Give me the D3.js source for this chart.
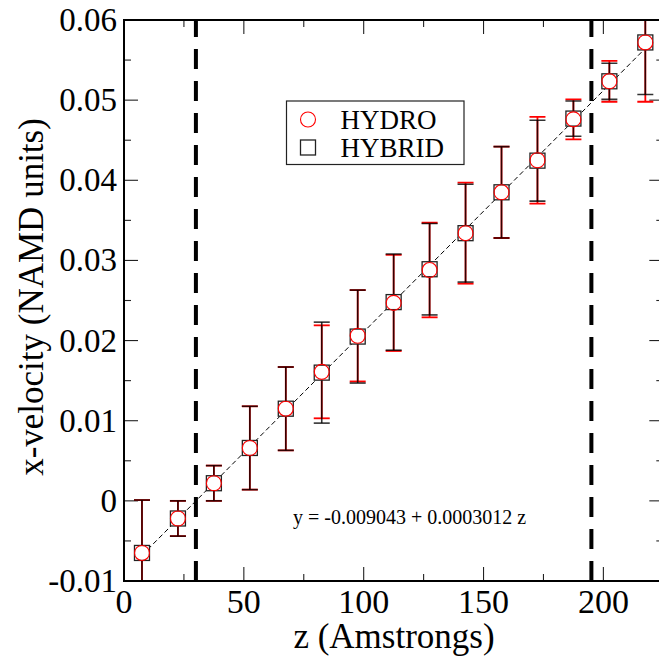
<!DOCTYPE html>
<html>
<head>
<meta charset="utf-8">
<script src="https://cdn.jsdelivr.net/npm/d3@7"></script>
<style>
html,body{margin:0;padding:0;background:#fff;}
svg{display:block;}
text{font-family:"Liberation Serif","DejaVu Serif",serif;fill:#000;}
</style>
</head>
<body>
<svg id="chart" width="659" height="659"></svg>
<script>
// ---- data ----
const zValues = [7.5, 22.5, 37.5, 52.5, 67.5, 82.5, 97.5, 112.5, 127.5, 142.5, 157.5, 172.5, 187.5, 202.5, 217.5];
const hydroVel = [-0.0065, -0.0022, 0.0022, 0.0066, 0.0115, 0.0161, 0.0206, 0.0247, 0.0288, 0.0334, 0.0385, 0.0425, 0.0476, 0.05235, 0.0572];
const hydroErr = [0.0066, 0.0022, 0.0022, 0.0052, 0.0052, 0.0058, 0.0057, 0.0060, 0.0059, 0.0063, 0.0057, 0.0054, 0.0025, 0.00255, 0.0074];
const hybridVel = [-0.0065, -0.0022, 0.0022, 0.0066, 0.0115, 0.0160, 0.0205, 0.0248, 0.0289, 0.0334, 0.0385, 0.04245, 0.0477, 0.05235, 0.0572];
const hybridErr = [0.0066, 0.0022, 0.0022, 0.0052, 0.0052, 0.0063, 0.0058, 0.0060, 0.0057, 0.0061, 0.0057, 0.00505, 0.0022, 0.00225, 0.0065];
const seriesNames = ["HYDRO", "HYBRID"];
const fitIntercept = -0.009043;
const fitSlope = 0.0003012;
const fitLabel = "y = -0.009043 + 0.0003012 z";
const boundaryZ = [30, 195];
const xTicks = [0, 50, 100, 150, 200];
const xMinorTicks = [25, 75, 125, 175, 225];
const yTicks = [-0.01, 0, 0.01, 0.02, 0.03, 0.04, 0.05, 0.06];
const yTickLabels = ["-0.01", "0", "0.01", "0.02", "0.03", "0.04", "0.05", "0.06"];
const yMinorTicks = [-0.005, 0.005, 0.015, 0.025, 0.035, 0.045, 0.055];
const xLabel = "z (Amstrongs)";
const yLabel = "x-velocity (NAMD units)";

// ---- layout ----
const svg = d3.select("#chart");
const x = d3.scaleLinear().domain([0, 225]).range([124, 663.3]);
const y = d3.scaleLinear().domain([-0.01, 0.06]).range([581, 20]);
const X0 = x.range()[0], X1 = x.range()[1], Y0 = y.range()[0], Y1 = y.range()[1];

svg.append("defs").append("clipPath").attr("id", "clip")
  .append("rect").attr("x", X0).attr("y", Y1).attr("width", X1 - X0).attr("height", Y0 - Y1);

// ---- ticks (inward on all sides) ----
const tickG = svg.append("g").attr("stroke", "#222").attr("stroke-width", 1.1);
function vt(v, len) {
  tickG.append("line").attr("x1", x(v)).attr("x2", x(v)).attr("y1", Y0).attr("y2", Y0 - len);
  tickG.append("line").attr("x1", x(v)).attr("x2", x(v)).attr("y1", Y1).attr("y2", Y1 + len);
}
function ht(v, len) {
  tickG.append("line").attr("y1", y(v)).attr("y2", y(v)).attr("x1", X0).attr("x2", X0 + len);
  tickG.append("line").attr("y1", y(v)).attr("y2", y(v)).attr("x1", X1).attr("x2", X1 - len);
}
xTicks.forEach(v => vt(v, 14));
xMinorTicks.forEach(v => vt(v, 7));
yTicks.forEach(v => ht(v, 14));
yMinorTicks.forEach(v => ht(v, 7));

// tick labels
svg.append("g").selectAll("text").data(xTicks).join("text")
  .attr("x", d => x(d)).attr("y", 613).attr("text-anchor", "middle")
  .attr("font-size", 34).text(d => String(d));
svg.append("g").selectAll("text").data(yTicks).join("text")
  .attr("x", 117).attr("y", d => y(d) + 11).attr("text-anchor", "end")
  .attr("font-size", 33).text((d, i) => yTickLabels[i]);

// axis labels
svg.append("text").attr("x", 394).attr("y", 648).attr("text-anchor", "middle")
  .attr("font-size", 35).text(xLabel);
svg.append("text").attr("transform", "translate(43,297) rotate(-90)").attr("text-anchor", "middle")
  .attr("font-size", 35).text(yLabel);

// ---- plot content ----
const plot = svg.append("g").attr("clip-path", "url(#clip)");

// boundary dashed lines
plot.selectAll("line.bound").data(boundaryZ).join("line")
  .attr("class", "bound")
  .attr("x1", d => x(d)).attr("x2", d => x(d)).attr("y1", Y0).attr("y2", Y1)
  .attr("stroke", "#000").attr("stroke-width", 4).attr("stroke-dasharray", "20,12");

// fit line
const zFirst = zValues[0], zLast = zValues[zValues.length - 1];
plot.append("line")
  .attr("x1", x(zFirst)).attr("y1", y(fitIntercept + fitSlope * zFirst))
  .attr("x2", x(zLast)).attr("y2", y(fitIntercept + fitSlope * zLast))
  .attr("stroke", "#000").attr("stroke-width", 1).attr("stroke-dasharray", "5,3");

// error bars
function errorBars(vals, errs, color, width, opacity) {
  const g = plot.append("g").attr("stroke", color).attr("stroke-width", width).attr("stroke-opacity", opacity);
  zValues.forEach((z, i) => {
    const cx = x(z), lo = y(vals[i] - errs[i]), hi = y(vals[i] + errs[i]);
    g.append("line").attr("x1", cx).attr("x2", cx).attr("y1", lo).attr("y2", hi);
    g.append("line").attr("x1", cx - 8).attr("x2", cx + 8).attr("y1", lo).attr("y2", lo);
    g.append("line").attr("x1", cx - 8).attr("x2", cx + 8).attr("y1", hi).attr("y2", hi);
  });
}
errorBars(hydroVel, hydroErr, "#ff0000", 1.8, 1);
errorBars(hybridVel, hybridErr, "#000000", 1.6, 0.8);

// markers
const half = 7.5;
plot.append("g").selectAll("rect").data(zValues).join("rect")
  .attr("x", (d) => x(d) - half).attr("y", (d, i) => y(hybridVel[i]) - half)
  .attr("width", 2 * half).attr("height", 2 * half)
  .attr("fill", "#fff").attr("stroke", "#222").attr("stroke-width", 1.3);
plot.append("g").selectAll("circle").data(zValues).join("circle")
  .attr("cx", d => x(d)).attr("cy", (d, i) => y(hydroVel[i])).attr("r", 7.5)
  .attr("fill", "none").attr("stroke", "#ff0000").attr("stroke-width", 1.1);

// fit equation
svg.append("text").attr("x", 293).attr("y", 524).attr("font-size", 20).text(fitLabel);

// frame
svg.append("rect").attr("x", X0).attr("y", Y1).attr("width", X1 - X0).attr("height", Y0 - Y1)
  .attr("fill", "none").attr("stroke", "#000").attr("stroke-width", 2);

// legend
const leg = svg.append("g");
leg.append("rect").attr("x", 286.5).attr("y", 101).attr("width", 177.5).attr("height", 63.5)
  .attr("fill", "#fff").attr("stroke", "#222").attr("stroke-width", 1.2);
leg.append("circle").attr("cx", 308).attr("cy", 119.5).attr("r", 7.5)
  .attr("fill", "none").attr("stroke", "#ff0000").attr("stroke-width", 1.1);
leg.append("rect").attr("x", 308 - half).attr("y", 147.5 - half).attr("width", 2 * half).attr("height", 2 * half)
  .attr("fill", "none").attr("stroke", "#222").attr("stroke-width", 1.3);
leg.selectAll("text").data(seriesNames).join("text")
  .attr("x", 340.5).attr("y", (d, i) => 128.5 + i * 28).attr("font-size", 27).text(d => d);
</script>
</body>
</html>
